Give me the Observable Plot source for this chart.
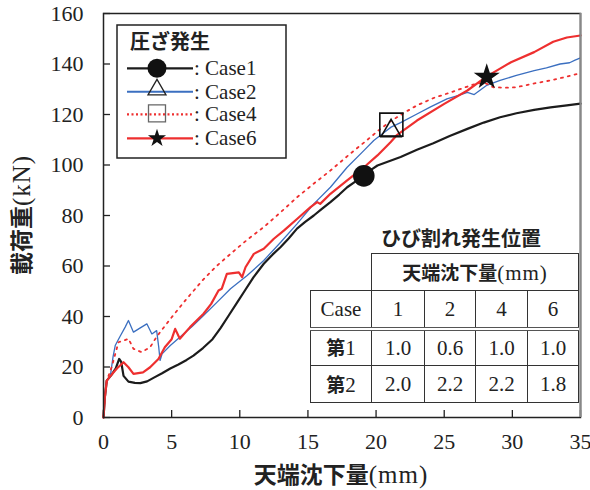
<!DOCTYPE html>
<html>
<head>
<meta charset="utf-8">
<script src="https://cdn.jsdelivr.net/npm/d3@7"></script>
<script src="https://cdn.jsdelivr.net/npm/@observablehq/plot@0.6"></script>
<style>
  body { margin: 0; background: #fff; }
  #wrap { position: relative; width: 590px; height: 490px; background: #fff; }
  .jp { font-family: "Noto Sans CJK JP"; font-weight: 700; }
  .ser { font-family: "Liberation Serif"; }
  #ttl { position: absolute; left: 381px; top: 226px; font-size: 20px; line-height: 24px; color: #222; white-space: nowrap; }
  #tbl { position: absolute; left: 310px; top: 253px; border-collapse: collapse; table-layout: fixed;
         font-family: "Liberation Serif"; font-size: 21px; color: #222; background: #fff; }
  #tbl td { border: 1.5px solid #333; text-align: center; padding: 0; line-height: 20px; white-space: nowrap; }
  #tbl td.blank { border: none; background: transparent; }
  #tbl tr.hdr td { border-bottom: 4px double #555; }
</style>
</head>
<body>
<div id="wrap"></div>
<script>
// ---- data ----
const xTicks = [0, 5, 10, 15, 20, 25, 30, 35];
const yTicks = [0, 20, 40, 60, 80, 100, 120, 140, 160];
const caseNames = ["Case1", "Case2", "Case4", "Case6"];

const case1X = [0, 0.1, 0.24, 0.6, 0.9, 1.15, 1.3, 1.47, 1.83, 2.3, 2.7, 3.2, 3.7, 4.3, 4.9, 5.5, 6.1, 6.6, 7.3, 8.0, 8.6, 9.2, 9.8, 10.4, 11.0, 11.76, 12.4, 13.0, 13.6, 14.2, 14.8, 15.43, 16.0, 16.65, 17.3, 17.88, 18.5, 19.1, 19.6, 20.1, 20.8, 21.8, 23.0, 24.2, 25.4, 26.7, 27.9, 29.1, 30.3, 31.6, 32.8, 34.0, 35];
const case1Y = [0, 8, 14.6, 17, 19.5, 23.2, 22, 16.5, 14.2, 13.7, 13.6, 14.3, 15.8, 17.5, 19.4, 21, 22.8, 24.5, 27.5, 31, 35.5, 40.5, 45.5, 50.5, 55.5, 60.9, 64.5, 67.5, 71, 74.8, 77.5, 80, 82.5, 85.3, 88.3, 91.2, 93.5, 95.8, 98, 99.8, 101.2, 103.2, 106, 108.6, 111.5, 114.3, 116.8, 118.9, 120.5, 121.8, 122.8, 123.6, 124.3];

const case2X = [0, 0.1, 0.24, 0.49, 0.7, 0.86, 1.2, 1.59, 1.83, 2.2, 2.7, 3.18, 3.55, 3.9, 4.05, 4.15, 4.3, 4.9, 5.6, 6.5, 7.34, 8.3, 9.32, 10.54, 11.76, 13.0, 14.2, 15.43, 16.65, 17.88, 19.1, 19.83, 20.3, 21.1, 21.8, 23.0, 24.0, 25.2, 26.0, 26.7, 27.2, 28.1, 29.1, 30.3, 31.6, 32.5, 33.5, 34.2, 34.6, 35];
const case2Y = [0, 8, 14.6, 16, 24, 28.5, 32, 35.8, 38.4, 33.8, 35.5, 37.1, 33.1, 34.4, 28, 22.6, 25.2, 28.5, 31.8, 36, 40.4, 45.5, 51, 56.2, 62.2, 69.4, 76.7, 84.6, 91.2, 99.1, 105.7, 109.7, 111.7, 115, 116.8, 120.2, 123, 126.2, 127.5, 128.8, 127.9, 131.5, 133.5, 135.5, 137.4, 138.5, 140, 140.5, 141.5, 142.4];

const case4X = [0, 0.1, 0.24, 0.6, 1.1, 1.5, 1.83, 2.2, 2.8, 3.42, 3.9, 4.9, 6.1, 7.3, 8.3, 9.32, 10.5, 11.76, 13.0, 14.2, 15.4, 16.65, 18.0, 19.3, 20.2, 21.06, 22.0, 23.0, 24.2, 25.5, 26.5, 27.4, 28.0, 28.6, 29.5, 30.3, 31.5, 32.8, 34.0, 35];
const case4Y = [0, 8, 14.6, 20, 29.8, 30.5, 31.2, 27.2, 25.9, 27.8, 32, 39, 47, 54.5, 60, 64.8, 70.2, 75.4, 81.3, 87.2, 92.5, 97.8, 104, 109.7, 113.8, 117.3, 120.5, 123.6, 126.5, 128.8, 130.7, 132.3, 132.5, 130.8, 130.6, 130.8, 132.2, 133.5, 135, 136.4];

const case6X = [0, 0.1, 0.24, 0.6, 1.0, 1.47, 1.83, 2.2, 2.9, 3.42, 4.03, 4.5, 5.0, 5.26, 5.6, 6.35, 7.34, 7.9, 8.44, 8.68, 9.05, 9.93, 10.17, 10.42, 11.03, 11.76, 12.5, 13.23, 14.2, 15.19, 15.68, 15.9, 16.65, 17.88, 18.6, 19.3, 20.1, 21.06, 21.5, 23.0, 25.0, 26.7, 28.1, 29.9, 31.6, 33.0, 34.0, 35];
const case6Y = [0, 8, 14.6, 17, 19.5, 21.9, 19.9, 17.3, 17.9, 19.9, 23.2, 27.8, 31, 35.1, 31.2, 35.8, 41.1, 45, 50.3, 51, 56.9, 57.5, 55.6, 59.5, 64.8, 66.8, 70.8, 74, 78.6, 83.3, 85.3, 84.6, 88.6, 93.9, 97, 100, 103.8, 109, 111.7, 117.6, 124.2, 129.5, 135, 140.7, 144.7, 148.8, 150.5, 151.3];

// crush ("圧ざ発生") points, one per case
const crushX = [19.1, 21.1, 21.12, 28.12];
const crushY = [95.7, 113.5, 116.0, 134.9];

// crack table
const tableCases = ["1", "2", "4", "6"];
const crack1 = ["1.0", "0.6", "1.0", "1.0"];
const crack2 = ["2.0", "2.2", "2.2", "1.8"];

// ---- styles ----
const RED = "#ee2f2f", BLUE = "#3b6fc0", BLACK = "#1c1c1c";
const lineStyles = [
  {stroke: BLACK, strokeWidth: 2.2},
  {stroke: BLUE, strokeWidth: 1.3},
  {stroke: RED, strokeWidth: 1.8, strokeDasharray: "2,5"},
  {stroke: RED, strokeWidth: 2.2}
];
const markerStyles = [
  {symbol: "circle", r: 10.8, fill: "#111", stroke: "none"},
  {symbol: "triangle", r: 7.4, fill: "none", stroke: "#111", strokeWidth: 1.6},
  {symbol: "square", r: 13, fill: "none", stroke: "#111", strokeWidth: 1.6},
  {symbol: "star", r: 8.2, fill: "#111", stroke: "none"}
];

const toRows = (xs, ys) => xs.map((x, i) => ({x, y: ys[i]}));
const series = [toRows(case1X, case1Y), toRows(case2X, case2Y), toRows(case4X, case4Y), toRows(case6X, case6Y)];
const crush = crushX.map((x, i) => ({x, y: crushY[i], name: caseNames[i]}));

const chart = Plot.plot({
  width: 590, height: 490,
  marginLeft: 103, marginRight: 10, marginTop: 13, marginBottom: 73,
  x: {domain: [0, 35]},
  y: {domain: [0, 160]},
  style: {background: "#fff", color: "#222", fontFamily: "Liberation Serif"},
  marks: [
    Plot.axisX({ticks: xTicks, tickSize: 0, tickPadding: 16, fontSize: 22, label: null, tickFormat: d => String(d)}),
    Plot.axisY({ticks: yTicks, tickSize: 0, tickPadding: 20, fontSize: 22, label: null, tickFormat: d => String(d)}),
    Plot.ruleX(xTicks, {x: d => d, insetTop: 404 - 7, stroke: "#222", strokeWidth: 1.3}),
    Plot.ruleY(yTicks, {y: d => d, insetRight: 477 - 7, stroke: "#222", strokeWidth: 1.3}),
    ...series.map((s, i) => Plot.line(s, {x: "x", y: "y", ...lineStyles[i]})),
    ...crush.map((c, i) => Plot.dot([c], {x: "x", y: "y", ...markerStyles[i]})),
    Plot.frame({stroke: "#222", strokeWidth: 1.5}),
    Plot.ruleX([35], {stroke: "#888", strokeWidth: 2})
  ]
});

document.getElementById("wrap").appendChild(chart);

// ---- axis titles & legend (drawn on the plot's svg) ----
const svg = d3.select(chart);
function mixedTitle(g, jp, ser) {
  g.append("tspan").attr("font-family", "Noto Sans CJK JP").attr("font-weight", 700).attr("font-size", 23).text(jp);
  g.append("tspan").attr("font-family", "Liberation Serif").attr("font-size", 25).attr("letter-spacing", 1).text(ser);
}
const xt = svg.append("text").attr("x", 341).attr("y", 483).attr("text-anchor", "middle").attr("fill", "#222");
mixedTitle(xt, "天端沈下量", "(mm)");
const yt = svg.append("text").attr("transform", "translate(30,215) rotate(-90)").attr("text-anchor", "middle").attr("fill", "#222");
mixedTitle(yt, "載荷重", "(kN)");

const lg = svg.append("g").attr("text-anchor", "start");
lg.append("rect").attr("x", 117).attr("y", 25).attr("width", 169).attr("height", 133)
  .attr("fill", "#fff").attr("stroke", "#222").attr("stroke-width", 1.5);
lg.append("text").attr("x", 130).attr("y", 49).attr("text-anchor", "start").attr("font-family", "Noto Sans CJK JP")
  .attr("font-weight", 700).attr("font-size", 20).attr("fill", "#222").text("圧ざ発生");
const rowY = [68.3, 91.7, 114.3, 138.3];
const legSym = [
  {type: d3.symbolCircle, size: 283, fill: "#111", stroke: "none", dy: 0},
  {type: d3.symbolTriangle, size: 140, fill: "none", stroke: "#222", dy: -2},
  {type: d3.symbolSquare, size: 289, fill: "none", stroke: "#666", dy: -1},
  {type: d3.symbolStar, size: 101, fill: "#111", stroke: "none", dy: 0}
];
caseNames.forEach((name, i) => {
  const ls = lineStyles[i];
  lg.append("line").attr("x1", 127).attr("x2", 193).attr("y1", rowY[i]).attr("y2", rowY[i])
    .attr("stroke", ls.stroke).attr("stroke-width", i === 1 ? 2 : 2.2)
    .attr("stroke-dasharray", ls.strokeDasharray ? "2,2.5" : null);
  const s = legSym[i];
  lg.append("path").attr("d", d3.symbol(s.type, s.size)())
    .attr("transform", `translate(157,${rowY[i] + s.dy})`)
    .attr("fill", s.fill).attr("stroke", s.stroke).attr("stroke-width", 1.3);
  lg.append("text").attr("x", 194).attr("y", rowY[i] + 7).attr("text-anchor", "start").attr("font-family", "Liberation Serif")
    .attr("font-size", 21).attr("fill", "#222").text(": " + name);
});

// ---- crack table (HTML) ----
const wrap = document.getElementById("wrap");
const ttl = document.createElement("div");
ttl.id = "ttl"; ttl.className = "jp"; ttl.textContent = "ひび割れ発生位置";
wrap.appendChild(ttl);

const colW = [61, 53, 51, 52, 51];
const rowH = [37, 38, 37, 37];
let html = "<colgroup>" + colW.map(w => `<col style="width:${w}px">`).join("") + "</colgroup>";
html += `<tr style="height:${rowH[0]}px"><td class="blank"></td><td colspan="4"><span class="jp" style="font-size:19px">天端沈下量</span><span class="ser" style="font-size:21px;letter-spacing:1px">(mm)</span></td></tr>`;
html += `<tr class="hdr" style="height:${rowH[1]}px"><td>Case</td>` + tableCases.map(c => `<td>${c}</td>`).join("") + "</tr>";
html += `<tr style="height:${rowH[2]}px"><td><span class="jp" style="font-size:19px">第</span>1</td>` + crack1.map(v => `<td>${v}</td>`).join("") + "</tr>";
html += `<tr style="height:${rowH[3]}px"><td><span class="jp" style="font-size:19px">第</span>2</td>` + crack2.map(v => `<td>${v}</td>`).join("") + "</tr>";
const tbl = document.createElement("table");
tbl.id = "tbl"; tbl.innerHTML = html;
wrap.appendChild(tbl);
</script>
</body>
</html>
